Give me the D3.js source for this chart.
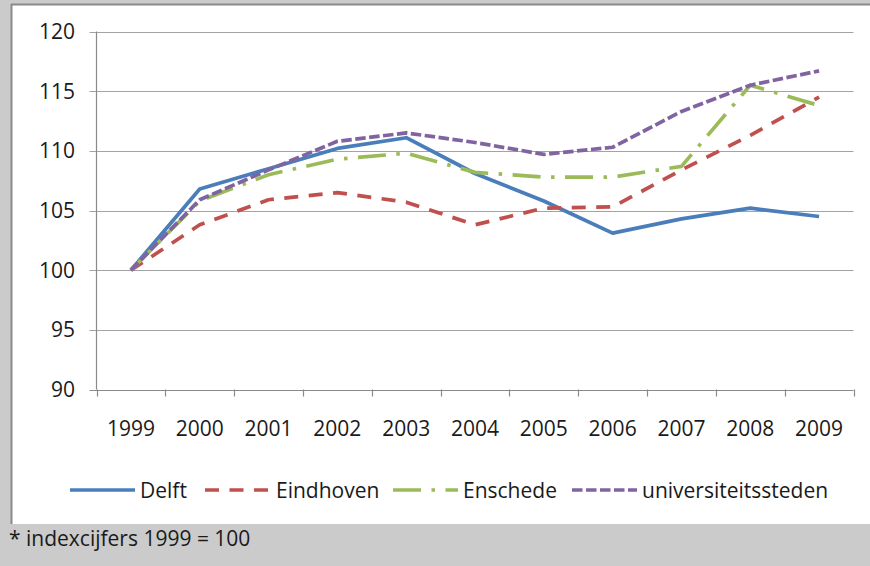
<!DOCTYPE html>
<html><head><meta charset="utf-8">
<script src="https://cdn.jsdelivr.net/npm/d3@7/dist/d3.min.js"></script>
<style>body{margin:0;background:#cbcbcb;} svg{display:block;} text{font-family:"Open Sans",sans-serif;fill:#1a1a1a;}</style>
</head><body><svg id="c" width="870" height="566"></svg>
<script>
const years = ["1999","2000","2001","2002","2003","2004","2005","2006","2007","2008","2009"];
const delft = [100,106.8,108.5,110.2,111.1,108.1,105.8,103.1,104.3,105.2,104.5];
const eindhoven = [100,103.8,105.9,106.5,105.7,103.8,105.2,105.3,108.4,111.3,114.5];
const enschede = [100,105.8,108.0,109.3,109.8,108.2,107.8,107.8,108.7,115.5,113.8];
const univ = [100,105.9,108.4,110.8,111.5,110.7,109.7,110.3,113.3,115.5,116.7];
const yTicks = [90,95,100,105,110,115,120];
const seriesNames = ["Delft","Eindhoven","Enschede","universiteitssteden"];
const footnote = "* indexcijfers 1999 = 100";

const colors = ["#4a7ebb","#c0504d","#9bbb59","#8064a2"];
const dashes = [null,"14,10.5","28,10.5,3.5,10.5","10.5,3.5"];
const seriesData = [delft,eindhoven,enschede,univ];
const FS = 21;

const svg = d3.select("#c");
svg.append("rect").attr("width",870).attr("height",566).attr("fill","#cbcbcb");
svg.append("rect").attr("x",12).attr("y",5).attr("width",858).attr("height",519).attr("fill","#fff");
svg.append("line").attr("x1",11.5).attr("x2",11.5).attr("y1",4).attr("y2",524).attr("stroke","#8a8a8a").attr("stroke-width",2);
svg.append("line").attr("x1",11).attr("x2",870).attr("y1",4.5).attr("y2",4.5).attr("stroke","#8a8a8a").attr("stroke-width",2);

const L=96.5, R=853.5, T=31.5, B=389.5;
const x = d3.scaleBand().domain(years).range([L,R]).padding(0);
const y = d3.scaleLinear().domain([90,120]).range([B,T]);
const cx = d => x(d)+x.bandwidth()/2;

const g = svg.append("g");
yTicks.forEach(t=>{
  g.append("line").attr("x1",L-7).attr("x2",R).attr("y1",Math.round(y(t))+0.5).attr("y2",Math.round(y(t))+0.5)
   .attr("stroke",t===90?"#8a8a8a":"#a3a3a3").attr("stroke-width",1.2);
  g.append("text").attr("x",75).attr("y",y(t)).attr("dy","0.36em").attr("text-anchor","end")
   .attr("font-size",FS).text(t);
});
g.append("line").attr("x1",L).attr("x2",L).attr("y1",T).attr("y2",B).attr("stroke","#8a8a8a").attr("stroke-width",1.2);
const edges = years.map(d=>x(d)).concat([R]);
edges.forEach(e=>{
  g.append("line").attr("x1",Math.round(e)+0.5).attr("x2",Math.round(e)+0.5).attr("y1",B).attr("y2",B+7).attr("stroke","#8a8a8a").attr("stroke-width",1.2);
});
years.forEach(d=>{
  g.append("text").attr("x",cx(d)).attr("y",428).attr("dy","0.36em").attr("text-anchor","middle").attr("font-size",FS).text(d);
});

const line = d3.line().x((v,i)=>cx(years[i])).y(v=>y(v));
seriesData.forEach((s,i)=>{
  svg.append("path").attr("d",line(s)).attr("fill","none").attr("stroke",colors[i]).attr("stroke-width",3.7)
    .attr("stroke-dasharray",dashes[i]).attr("stroke-linejoin","round");
});

const legX = [70,205,393,572];
const legY = 490;
seriesNames.forEach((n,i)=>{
  svg.append("line").attr("x1",legX[i]).attr("x2",legX[i]+65).attr("y1",legY).attr("y2",legY)
    .attr("stroke",colors[i]).attr("stroke-width",3.7).attr("stroke-dasharray",dashes[i]);
  svg.append("text").attr("x",legX[i]+(i===1?71:70)).attr("y",legY).attr("dy","0.36em").attr("font-size",FS).text(n);
});
svg.append("text").attr("x",9).attr("y",538).attr("dy","0.36em").attr("font-size",FS).attr("fill","#000").text(footnote);
</script></body></html>
